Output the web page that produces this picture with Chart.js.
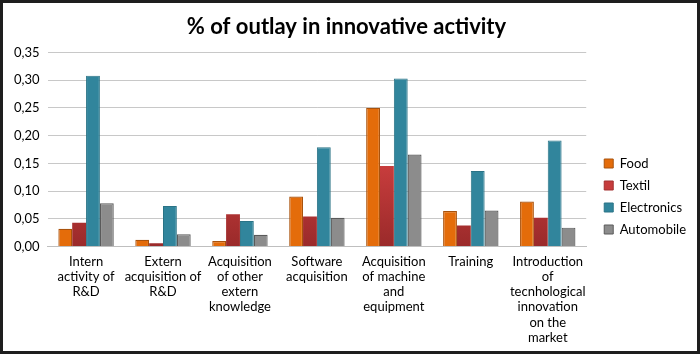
<!DOCTYPE html>
<html>
<head>
<meta charset="utf-8">
<script src="https://cdn.jsdelivr.net/npm/chart.js@4/dist/chart.umd.min.js"></script>
<style>
  html, body { margin: 0; padding: 0; background: #fff; }
  #wrap { position: relative; width: 700px; height: 354px; }
  #c { position: absolute; left: 0; top: 0; }
  #frame { position: absolute; left: 0; top: 0; width: 700px; height: 354px; box-sizing: border-box; border: 3px solid #1e1e1e; pointer-events: none; }
</style>
</head>
<body>
<div id="wrap">
  <canvas id="c" width="700" height="354"></canvas>
  <div id="frame"></div>
</div>
<script>
const categories = [
  ["Intern", "activity of", "R&D"],
  ["Extern", "acquisition of", "R&D"],
  ["Acquisition", "of other", "extern", "knowledge"],
  ["Software", "acquisition"],
  ["Acquisition", "of machine", "and", "equipment"],
  ["Training"],
  ["Introduction", "of", "tecnhological", "innovation", "on the", "market"]
];
const seriesNames = ["Food", "Textil", "Electronics", "Automobile"];
const food        = [0.032, 0.012, 0.010, 0.090, 0.250, 0.064, 0.081];
const textil      = [0.043, 0.006, 0.058, 0.054, 0.145, 0.038, 0.052];
const electronics = [0.308, 0.073, 0.046, 0.179, 0.303, 0.136, 0.191];
const automobile  = [0.078, 0.022, 0.021, 0.052, 0.166, 0.065, 0.034];
const yTicks = [0, 0.05, 0.10, 0.15, 0.20, 0.25, 0.30, 0.35];

const FONT = "Lato, 'Open Sans', sans-serif";

function textilFill(ctx) {
  const chart = ctx.chart;
  const area = chart.chartArea;
  if (!area) return '#C0392F';
  const g = chart.ctx.createLinearGradient(0, area.top, 0, area.bottom);
  g.addColorStop(0, '#D94A4A');
  g.addColorStop(0.6, '#C63C3C');
  g.addColorStop(1, '#9A2A2A');
  return g;
}

const chart = new Chart(document.getElementById('c'), {
  type: 'bar',
  data: {
    labels: categories,
    datasets: [
      { label: seriesNames[0], data: food, backgroundColor: '#E46C0A', borderColor: '#A9520C', borderWidth: 1.2 },
      { label: seriesNames[1], data: textil, backgroundColor: textilFill, borderColor: '#A33030', borderWidth: 0 },
      { label: seriesNames[2], data: electronics, backgroundColor: '#31859C', borderColor: '#2A7386', borderWidth: 1 },
      { label: seriesNames[3], data: automobile, backgroundColor: '#8C8C8C', borderColor: '#5A5A5A', borderWidth: 1.2 }
    ]
  },
  options: {
    responsive: false,
    animation: false,
    devicePixelRatio: 1,
    layout: { padding: { left: 6, right: 13, top: 6, bottom: 1 } },
    datasets: { bar: { categoryPercentage: 0.72, barPercentage: 1.0 } },
    plugins: {
      title: {
        display: true,
        text: '% of outlay in innovative activity',
        color: '#000',
        font: { family: FONT, size: 22, weight: 'bold' },
        padding: { top: 8, bottom: 12 }
      },
      legend: {
        position: 'right',
        align: 'center',
        labels: {
          color: '#000',
          font: { family: FONT, size: 13 },
          boxWidth: 9,
          boxHeight: 9,
          padding: 9,
          useBorderRadius: false,
          generateLabels(chart) {
            const cols = ['#E46C0A', '#C63C3C', '#31859C', '#8C8C8C'];
            const bds = ['#A9520C', '#A33030', '#2A7386', '#5A5A5A'];
            return chart.data.datasets.map((d, i) => ({
              text: d.label, fillStyle: cols[i], strokeStyle: bds[i], lineWidth: 1,
              hidden: false, datasetIndex: i, fontColor: '#000'
            }));
          }
        }
      },
      tooltip: { enabled: false }
    },
    scales: {
      x: {
        grid: { display: false, drawTicks: false },
        border: { display: true, color: '#BFBFBF', width: 1 },
        ticks: {
          color: '#000', maxRotation: 0, autoSkip: false, padding: 8,
          font: { family: FONT, size: 13, lineHeight: 1.16 }
        }
      },
      y: {
        min: 0, max: 0.35,
        afterBuildTicks(axis) { axis.ticks = yTicks.map(v => ({ value: v })); },
        grid: { color: '#C8C8C8', lineWidth: 1, drawTicks: false },
        border: { display: false },
        ticks: {
          color: '#000', padding: 8,
          font: { family: FONT, size: 13 },
          callback: v => v.toFixed(2).replace('.', ',')
        }
      }
    }
  }
});

// shift the legend block to where it sits in the reference
const legendDraw = chart.legend.draw.bind(chart.legend);
chart.legend.draw = function (area) {
  const c = chart.ctx;
  c.save();
  c.translate(9, 17);
  legendDraw(area);
  c.restore();
};
chart.draw();
</script>
</body>
</html>
